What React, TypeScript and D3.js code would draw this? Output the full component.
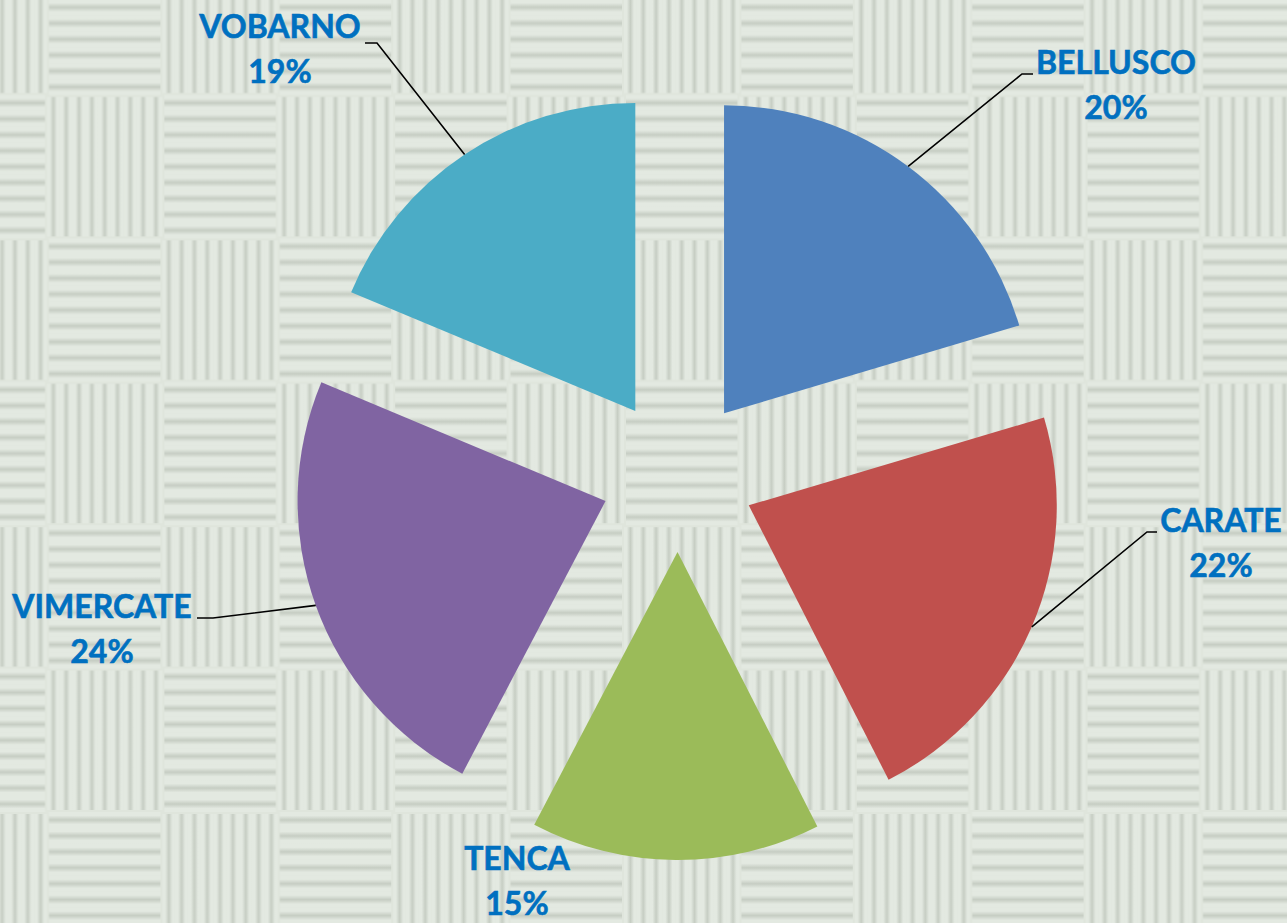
import React from 'react';
import * as d3 from 'd3';

// ---- data ----
const categories: string[] = ['BELLUSCO', 'CARATE', 'TENCA', 'VIMERCATE', 'VOBARNO'];
const values: number[] = [20.4, 22.1, 15.2, 23.6, 18.7];
const colors: string[] = ['#4F81BD', '#C0504D', '#9BBB59', '#8064A2', '#4BACC6'];

// ---- layout ----
const W = 1287;
const H = 923;
const CX = 678;
const CY = 475;
const R = 308;
const EXPLODE = 77;
// label anchor: centre x and first baseline y
const labelPos: [number, number][] = [
  [1116, 74],
  [1221, 532],
  [517, 870],
  [102, 618],
  [280, 38],
];
// leader: elbow x, end x, y (null = no leader)
const leaders: ({ elbow: number; end: number; y: number } | null)[] = [
  { elbow: 1022, end: 1033, y: 74 },
  { elbow: 1147, end: 1157, y: 532 },
  null,
  { elbow: 213, end: 197, y: 618 },
  { elbow: 377, end: 365, y: 43 },
];

// background weave
const BW = 115.4;
const BH = 143.4;
const NSTRIPE = 9;

function Block({ x, y, vertical }: { x: number; y: number; vertical: boolean }) {
  const n = d3.range(NSTRIPE);
  if (vertical) {
    const p = BW / NSTRIPE;
    return (
      <g>
        {n.map((k) => (
          <rect key={k} x={x + k * p} y={y + 2} width={p} height={BH - 4} fill="url(#gV)" />
        ))}
      </g>
    );
  }
  const p = BH / NSTRIPE;
  return (
    <g>
      {n.map((k) => (
        <rect key={k} x={x + 2} y={y + k * p} width={BW - 4} height={p} fill="url(#gH)" />
      ))}
    </g>
  );
}

export default function App() {
  const total = d3.sum(values);
  const pie = d3
    .pie<number>()
    .sort(null)
    .value((d) => d)
    .startAngle(0)
    .endAngle(2 * Math.PI);
  const arcs = pie(values);
  const arcGen = d3.arc<d3.PieArcDatum<number>>().innerRadius(0).outerRadius(R);

  const light = '#E3E9E1';
  const dark = '#C6CDC3';

  return (
    <svg
      width={W}
      height={H}
      style={{ position: 'absolute', left: 0, top: 0, display: 'block' }}
      fontFamily="Lato, 'Liberation Sans', Arial, sans-serif"
    >
      <defs>
        <linearGradient id="gV" x1="0" y1="0" x2="1" y2="0">
          <stop offset="0" stopColor={light} />
          <stop offset="0.22" stopColor={light} />
          <stop offset="0.5" stopColor={dark} />
          <stop offset="0.78" stopColor={light} />
          <stop offset="1" stopColor={light} />
        </linearGradient>
        <linearGradient id="gH" x1="0" y1="0" x2="0" y2="1">
          <stop offset="0" stopColor={light} />
          <stop offset="0.22" stopColor={light} />
          <stop offset="0.5" stopColor={dark} />
          <stop offset="0.78" stopColor={light} />
          <stop offset="1" stopColor={light} />
        </linearGradient>
        <pattern
          id="weave"
          patternUnits="userSpaceOnUse"
          x={-68.4}
          y={-48.4}
          width={BW * 2}
          height={BH * 2}
        >
          <rect width={BW * 2} height={BH * 2} fill="#DFE5DC" />
          <Block x={0} y={0} vertical={true} />
          <Block x={BW} y={0} vertical={false} />
          <Block x={0} y={BH} vertical={false} />
          <Block x={BW} y={BH} vertical={true} />
        </pattern>
      </defs>
      <rect x={0} y={0} width={W} height={H} fill="url(#weave)" />

      <g transform={`translate(${CX},${CY})`}>
        {arcs.map((a, i) => {
          const mid = (a.startAngle + a.endAngle) / 2;
          const dx = EXPLODE * Math.sin(mid);
          const dy = -EXPLODE * Math.cos(mid);
          return (
            <path
              key={categories[i]}
              d={arcGen(a) || ''}
              transform={`translate(${dx},${dy})`}
              fill={colors[i]}
            />
          );
        })}
      </g>

      {arcs.map((a, i) => {
        const ld = leaders[i];
        if (!ld) return null;
        const mid = (a.startAngle + a.endAngle) / 2;
        const sx = CX + (EXPLODE + R) * Math.sin(mid);
        const sy = CY - (EXPLODE + R) * Math.cos(mid);
        return (
          <polyline
            key={'l' + i}
            points={`${sx},${sy} ${ld.elbow},${ld.y} ${ld.end},${ld.y}`}
            fill="none"
            stroke="#000"
            strokeWidth={1.6}
          />
        );
      })}

      {categories.map((c, i) => {
        const [x, y] = labelPos[i];
        const pct = Math.round((values[i] / total) * 100);
        return (
          <text
            key={'t' + c}
            x={x}
            y={y}
            textAnchor="middle"
            fill="#0070C0"
            fontWeight="bold"
            fontSize={32}
            stroke="#0070C0"
            strokeWidth={0.6}
          >
            <tspan x={x} y={y}>{c}</tspan>
            <tspan x={x} y={y + 45}>{`${pct}%`}</tspan>
          </text>
        );
      })}
    </svg>
  );
}
